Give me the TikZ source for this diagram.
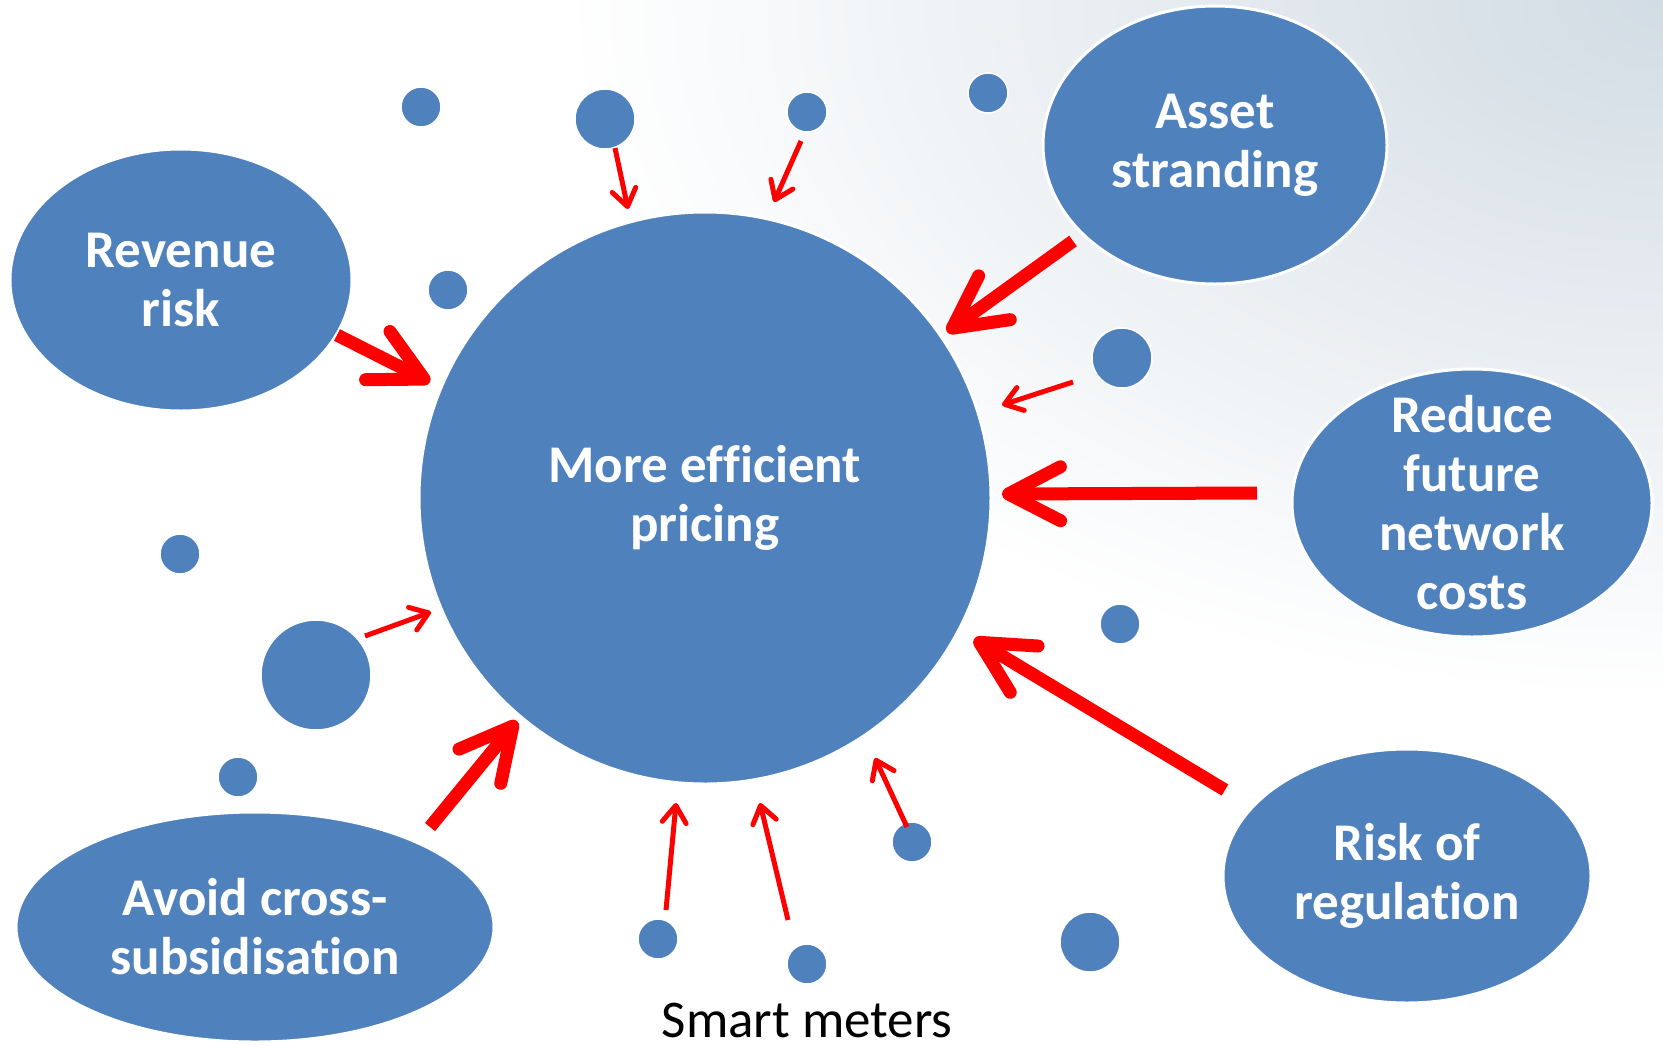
\documentclass[tikz,border=0pt]{standalone}
\usepackage{fontspec}
\setmainfont[Ligatures=NoCommon]{Carlito}
\usetikzlibrary{arrows.meta,shapes.geometric}
\definecolor{blu}{HTML}{4F81BD}
\definecolor{bgc}{HTML}{D2DCE4}
\definecolor{arr}{HTML}{FF0000}
\begin{document}
\begin{tikzpicture}[x=1pt,y=-1pt,
  bubble/.style={ellipse, fill=blu, draw=white, line width=3pt, inner sep=0pt},
  btext/.style={text=white, align=center, font=\bfseries\fontsize{53}{59}\selectfont, inner sep=0pt},
  dot/.style={circle, fill=blu, draw=white, line width=1.5pt, inner sep=0pt},
  bigarrow/.style={draw=arr, line width=13pt, line cap=butt, -{Straight Barb[length=52pt,width=54pt,round]}},
  thinarrow/.style={draw=arr, line width=5pt, line cap=butt, -{Straight Barb[length=17pt,width=24pt,round]}}
]
\useasboundingbox (0,0) rectangle (1663,1045);
\fill[white] (0,0) rectangle (1663,1045);
\begin{scope}
  \clip (0,0) rectangle (1663,1045);
  \shade[inner color=bgc, outer color=white] (1663,0) ellipse (1100pt and 700pt);
\end{scope}

% main circle
\node[bubble, circle, minimum size=572pt] (main) at (705,498) {};
\node[btext] (mainT) at (main.center) {More efficient\\pricing};

% outer ellipses
\node[bubble, minimum width=342pt, minimum height=262pt] (rev) at (181,280) {};
\node[btext] (revT) at (rev.center) {Revenue\\risk};
\node[bubble, minimum width=344pt, minimum height=278pt] (asset) at (1215,145) {};
\node[btext] (assetT) at (asset.center) {Asset\\stranding};
\node[bubble, minimum width=360pt, minimum height=268pt] (reduce) at (1472,503) {};
\node[btext] (reduceT) at (reduce.center) {Reduce\\future\\network\\costs};
\node[bubble, minimum width=368pt, minimum height=254pt] (reg) at (1407,876) {};
\node[btext] (regT) at (reg.center) {Risk of\\regulation};
\node[bubble, minimum width=478pt, minimum height=230pt] (avoid) at (255,927) {};
\node[btext] (avoidT) at (avoid.center) {Avoid cross-\\subsidisation};

% small dots
\node[dot, minimum size=40pt] (d1) at (421,107) {};
\node[dot, minimum size=60pt] (d2) at (605,119) {};
\node[dot, minimum size=40pt] (d3) at (807,112) {};
\node[dot, minimum size=40pt] (d4) at (988,93) {};
\node[dot, minimum size=40pt] (d5) at (448,290) {};
\node[dot, minimum size=60pt] (d6) at (1122,358) {};
\node[dot, minimum size=40pt] (d7) at (180,554) {};
\node[dot, minimum size=110pt] (d8) at (316,675) {};
\node[dot, minimum size=40pt] (d9) at (238,777) {};
\node[dot, minimum size=40pt] (d10) at (1120,624) {};
\node[dot, minimum size=40pt] (d11) at (912,842) {};
\node[dot, minimum size=40pt] (d12) at (658,939) {};
\node[dot, minimum size=40pt] (d13) at (807,964) {};
\node[dot, minimum size=60pt] (d14) at (1090,942) {};

\node[anchor=base, inner sep=0pt, font=\fontsize{53}{60}\selectfont] (sm) at (807,1037) {Smart meters};

% arrow end points
\coordinate (a1t) at (337,335); \coordinate (a1h) at (430,382);
\coordinate (a2t) at (1073,241); \coordinate (a2h) at (947,332);
\coordinate (a3t) at (1257,493); \coordinate (a3h) at (1002,494);
\coordinate (a4t) at (1225,790); \coordinate (a4h) at (974,639);
\coordinate (a5t) at (430,827); \coordinate (a5h) at (517,721);
\coordinate (b1t) at (615,148); \coordinate (b1h) at (628,209);
\coordinate (b2t) at (801,141); \coordinate (b2h) at (774,202);
\coordinate (b3t) at (1073,382); \coordinate (b3h) at (1002,405);
\coordinate (b4t) at (365,636); \coordinate (b4h) at (431,612);
\coordinate (b5t) at (666,910); \coordinate (b5h) at (676,803);
\coordinate (b6t) at (788,920); \coordinate (b6h) at (760,803);
\coordinate (b7t) at (907,827); \coordinate (b7h) at (875,758);

\draw[bigarrow] (a1t) -- (a1h);
\draw[bigarrow] (a2t) -- (a2h);
\draw[bigarrow] (a3t) -- (a3h);
\draw[bigarrow] (a4t) -- (a4h);
\draw[bigarrow] (a5t) -- (a5h);
\draw[thinarrow] (b1t) -- (b1h);
\draw[thinarrow] (b2t) -- (b2h);
\draw[thinarrow] (b3t) -- (b3h);
\draw[thinarrow] (b4t) -- (b4h);
\draw[thinarrow] (b5t) -- (b5h);
\draw[thinarrow] (b6t) -- (b6h);
\draw[thinarrow] (b7t) -- (b7h);
\end{tikzpicture}
\end{document}
